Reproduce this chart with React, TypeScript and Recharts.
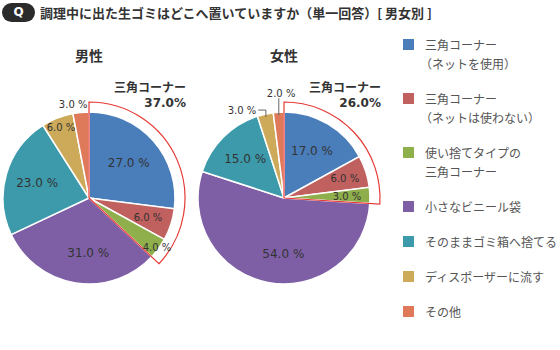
import React from 'react';
import { PieChart, Pie, Cell } from 'recharts';

const categories = [
  ['三角コーナー', '（ネットを使用）'],
  ['三角コーナー', '（ネットは使わない）'],
  ['使い捨てタイプの', '三角コーナー'],
  ['小さなビニール袋'],
  ['そのままゴミ箱へ捨てる'],
  ['ディスポーザーに流す'],
  ['その他'],
];
const maleValues = [27, 6, 4, 31, 23, 6, 3];
const femaleValues = [17, 6, 3, 54, 15, 3, 2];
const cornerCount = 3; // first three categories are 三角コーナー
const titleText = '調理中に出た生ゴミはどこへ置いていますか（単一回答）[ 男女別 ]';
const groupNames = ['男性', '女性'];
const cornerLabel = '三角コーナー';

const colors = ['#4A7EBB', '#C0605F', '#8FAE4C', '#7E5FA5', '#3C9AAB', '#CCAA5A', '#DE7A5A'];
const RED = '#E53935';
const TEXT = '#333333';
const JP = '"Noto Sans CJK JP", "Noto Sans", sans-serif';
const NUM = '"DejaVu Sans", sans-serif';

const R = 86;
const RO = 96;
const maleC = { x: 89, y: 198 };
const femaleC = { x: 284, y: 198 };

type Cfg = { r: number; size: number; dx?: number; dy?: number; anchor?: string; leader?: 'elbow' | 'up' };
const maleCfg: Cfg[] = [
  { r: 53, size: 12 },
  { r: 62, size: 10 },
  { r: 84, size: 10 },
  { r: 56, size: 12, dx: 8 },
  { r: 54, size: 12 },
  { r: 76, size: 10 },
  { r: 94, size: 10, dx: -7 },
];
const femaleCfg: Cfg[] = [
  { r: 55, size: 12 },
  { r: 64, size: 10 },
  { r: 63, size: 10 },
  { r: 57, size: 12, dx: 10 },
  { r: 55, size: 12 },
  { r: 86, size: 10, dx: -9, dy: -4, anchor: 'end', leader: 'elbow' },
  { r: 86, size: 10, dx: 2.5, dy: -19, leader: 'up' },
];

const RAD = Math.PI / 180;
const polar = (cx: number, cy: number, r: number, a: number) => [cx + r * Math.cos(-a * RAD), cy + r * Math.sin(-a * RAD)];

const makeLabel = (cfgs: Cfg[]) => (props: any) => {
  const { cx, cy, midAngle, index, value } = props;
  const c = cfgs[index];
  const [px, py] = polar(cx, cy, c.r, midAngle);
  const tx = px + (c.dx || 0);
  const ty = py + (c.dy || 0);
  let line = null;
  if (c.leader) {
    const [sx, sy] = polar(cx, cy, R - 3, midAngle);
    const pts = c.leader === 'elbow'
      ? `${sx},${sy} ${sx},${ty} ${tx + 2},${ty}`
      : `${sx},${sy} ${sx},${ty + 5}`;
    line = <polyline points={pts} fill="none" stroke="#666" strokeWidth={1} />;
  }
  return (
    <g key={`lbl-${index}`}>
      {line}
      <text x={tx} y={ty} textAnchor={c.anchor || 'middle'} dominantBaseline="central"
        fontFamily={NUM} fontSize={c.size} fill={TEXT}>
        {`${value.toFixed(1)} %`}
      </text>
    </g>
  );
};

const toData = (vals: number[]) => vals.map((v, i) => ({ name: categories[i].join(''), value: v }));
const outlineData = (vals: number[]) => {
  const s = vals.slice(0, cornerCount).reduce((a, b) => a + b, 0);
  const t = vals.reduce((a, b) => a + b, 0);
  return [{ name: 'corner', value: s }, { name: 'rest', value: t - s }];
};

export default function App() {
  const maleCorner = outlineData(maleValues)[0].value;
  const femaleCorner = outlineData(femaleValues)[0].value;
  return (
    <div style={{ position: 'absolute', left: 0, top: 0, width: 560, height: 350, background: '#fff', overflow: 'hidden' }}>
      <PieChart width={560} height={350} margin={{ top: 0, right: 0, bottom: 0, left: 0 }} style={{ position: 'absolute', left: 0, top: 0 }}>
        <Pie data={toData(maleValues)} dataKey="value" cx={maleC.x} cy={maleC.y} outerRadius={R}
          startAngle={90} endAngle={-270} stroke="#fff" strokeWidth={1.5}
          isAnimationActive={false} label={makeLabel(maleCfg)} labelLine={false}>
          {maleValues.map((_, i) => <Cell key={i} fill={colors[i]} />)}
        </Pie>
        <Pie data={outlineData(maleValues)} dataKey="value" cx={maleC.x} cy={maleC.y} outerRadius={RO}
          startAngle={90} endAngle={-270} isAnimationActive={false}>
          <Cell fill="none" stroke={RED} strokeWidth={1.2} />
          <Cell fill="none" stroke="none" />
        </Pie>
        <Pie data={toData(femaleValues)} dataKey="value" cx={femaleC.x} cy={femaleC.y} outerRadius={R}
          startAngle={90} endAngle={-270} stroke="#fff" strokeWidth={1.5}
          isAnimationActive={false} label={makeLabel(femaleCfg)} labelLine={false}>
          {femaleValues.map((_, i) => <Cell key={i} fill={colors[i]} />)}
        </Pie>
        <Pie data={outlineData(femaleValues)} dataKey="value" cx={femaleC.x} cy={femaleC.y} outerRadius={RO}
          startAngle={90} endAngle={-270} isAnimationActive={false}>
          <Cell fill="none" stroke={RED} strokeWidth={1.2} />
          <Cell fill="none" stroke="none" />
        </Pie>
      </PieChart>

      {/* header */}
      <div style={{ position: 'absolute', left: 2, top: 3, width: 33, height: 19, borderRadius: 10, background: '#2b2b2b',
        color: '#fff', fontFamily: NUM, fontWeight: 'bold', fontSize: 12, lineHeight: '19px', textAlign: 'center' }}>Q</div>
      <div style={{ position: 'absolute', left: 40, top: 3, height: 19, lineHeight: '19px', fontFamily: JP, fontWeight: 'bold',
        fontSize: 13, color: TEXT, whiteSpace: 'nowrap' }}>{titleText}</div>

      {/* group titles */}
      <div style={{ position: 'absolute', left: maleC.x - 40, width: 80, top: 45, textAlign: 'center', fontFamily: JP, fontWeight: 'bold', fontSize: 14, color: TEXT }}>{groupNames[0]}</div>
      <div style={{ position: 'absolute', left: femaleC.x - 40, width: 80, top: 45, textAlign: 'center', fontFamily: JP, fontWeight: 'bold', fontSize: 14, color: TEXT }}>{groupNames[1]}</div>

      {/* corner totals */}
      {[{ c: maleC, v: maleCorner }, { c: femaleC, v: femaleCorner }].map((o, k) => (
        <div key={k} style={{ position: 'absolute', right: 560 - (o.c.x + 97), top: 78, textAlign: 'right', color: TEXT, fontWeight: 'bold' }}>
          <div style={{ fontFamily: JP, fontSize: 12, lineHeight: '17px' }}>{cornerLabel}</div>
          <div style={{ fontFamily: NUM, fontSize: 12, lineHeight: '16px' }}>{`${o.v.toFixed(1)}%`}</div>
        </div>
      ))}

      {/* legend */}
      <div style={{ position: 'absolute', left: 403, top: 35, display: 'flex', flexDirection: 'column', gap: 16 }}>
        {categories.map((lines, i) => (
          <div key={i} style={{ display: 'flex', alignItems: 'flex-start' }}>
            <div style={{ width: 11, height: 11, background: colors[i], marginTop: 4, marginRight: 11, flexShrink: 0 }} />
            <div style={{ fontFamily: JP, fontSize: 12, lineHeight: '19px', color: '#555' }}>
              {lines.map((l, j) => <div key={j} style={{ whiteSpace: 'nowrap', marginLeft: l.startsWith('（') ? -5 : 0 }}>{l}</div>)}
            </div>
          </div>
        ))}
      </div>
    </div>
  );
}
